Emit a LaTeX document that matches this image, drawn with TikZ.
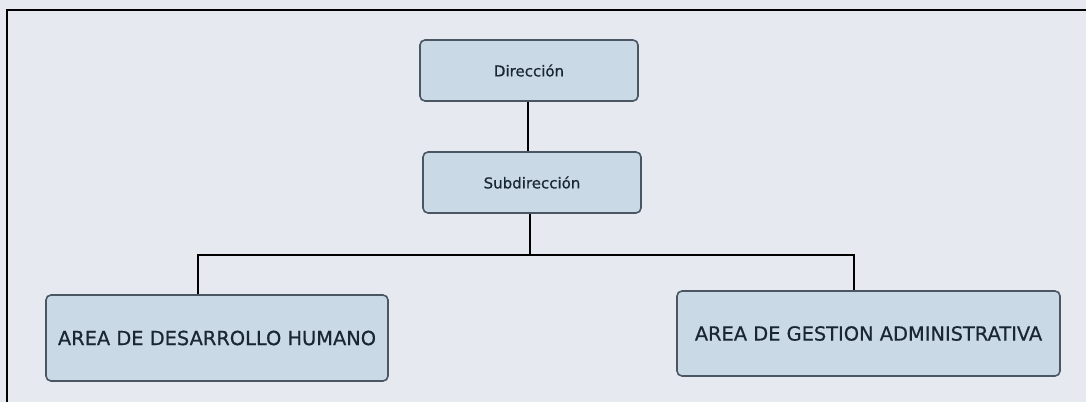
\documentclass[tikz,border=0pt]{standalone}
\usepackage{fontspec}
\setmainfont{DejaVu Sans}
\newfontfamily\boxfont[FakeBold=0.6]{DejaVu Sans}
\definecolor{bg}{HTML}{E6E9F0}
\definecolor{boxfill}{HTML}{C9D9E6}
\definecolor{boxdraw}{HTML}{4A5762}
\definecolor{txt}{HTML}{1A2633}
\begin{document}
\begin{tikzpicture}[x=1pt,y=-1pt,
  orgbox/.style={draw=boxdraw,line width=1.6pt,fill=boxfill,rounded corners=5pt,inner sep=0pt,text=txt},
  small/.style={font=\boxfont\fontsize{15}{18}\selectfont},
  big/.style={font=\boxfont\fontsize{19.4}{22}\selectfont},
  link/.style={draw=black,line width=1.8pt}]
\fill[bg] (0,0) rectangle (1086,402);
\useasboundingbox (0,0) rectangle (1086,402);
\draw[line width=1.5pt,black] (7,402) -- (7,10) -- (1086,10);
\node[orgbox,small,minimum width=218pt,minimum height=61pt] (dir) at (529,70.5) {Dirección};
\node[orgbox,small,minimum width=218pt,minimum height=61pt] (sub) at (532,182.5) {Subdirección};
\node[orgbox,big,minimum width=342pt,minimum height=86pt] (adh) at (217,338) {AREA DE DESARROLLO HUMANO};
\node[orgbox,big,minimum width=383pt,minimum height=85pt] (aga) at (868.5,333.5) {AREA DE GESTION ADMINISTRATIVA};
\coordinate (j) at (530,255);
\draw[link] (dir.south -| 528,0) -- (sub.north -| 528,0);
\draw[link] (sub.south -| j) -- (j);
\draw[link] (adh.north -| 198,0) |- (j) -| (aga.north -| 854,0);
\end{tikzpicture}
\end{document}
